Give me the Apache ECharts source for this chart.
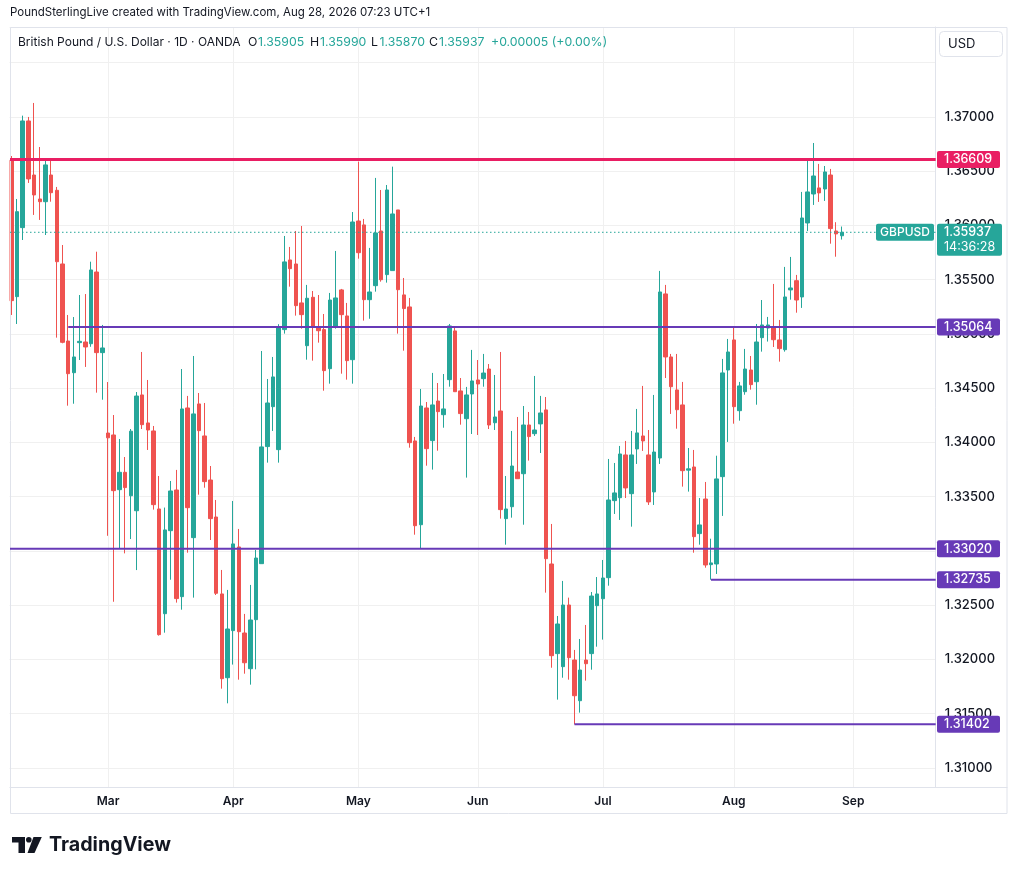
<!DOCTYPE html>
<html>
<head>
<meta charset="utf-8">
<script src="https://cdn.jsdelivr.net/npm/echarts@6/dist/echarts.min.js"></script>
<style>
html,body{margin:0;padding:0;background:#ffffff;}
#c{width:1017px;height:875px;}
</style>
</head>
<body>
<div id="c"></div>
<script>
// ---------------- DATA ----------------
const FIRST_DATE = [2026, 1, 5];   // 5 Feb 2026 (UTC, month 0-based)
const TOTAL_SLOTS = 163;           // daily bars + empty right margin slots
const opens = [
1.36600,1.35344,1.35980,1.36963,1.36465,1.36244,1.36219,1.36465,1.36324,1.35645,
1.34935,1.34643,1.34920,1.34926,1.34910,1.35571,1.34828,1.34087,1.34069,1.33565,
1.33725,1.33509,1.33371,1.34438,1.34180,1.34106,1.33387,1.32422,1.33187,1.33562,
1.32579,1.34318,1.33123,1.34355,1.34060,1.33654,1.33313,1.32604,1.31832,1.32266,
1.33037,1.32244,1.31915,1.32367,1.32883,1.33962,1.34330,1.33934,1.35040,1.35682,
1.35645,1.35286,1.34892,1.35338,1.35067,1.35040,1.34680,1.35065,1.35406,1.35166,
1.34763,1.36041,1.36005,1.35316,1.35445,1.35949,1.35547,1.35584,1.36143,1.35360,
1.35249,1.34014,1.33242,1.34318,1.34017,1.34382,1.34256,1.34579,1.35028,1.34475,
1.34219,1.34447,1.34576,1.34588,1.34677,1.34182,1.34290,1.33298,1.33408,1.33728,
1.33712,1.34161,1.34081,1.34171,1.34300,1.32880,1.32054,1.31934,1.32502,1.31995,
1.31620,1.31995,1.32054,1.32496,1.32560,1.32754,1.33464,1.33491,1.33885,1.33528,
1.33940,1.34060,1.33885,1.33544,1.33857,1.35369,1.34788,1.34484,1.34346,1.33745,
1.33774,1.33160,1.33479,1.32874,1.32880,1.33685,1.34668,1.34945,1.34293,1.34468,
1.34668,1.34560,1.34966,1.35055,1.35068,1.34945,1.34855,1.35406,1.35491,1.35341,
1.36023,1.36290,1.36346,1.36336,1.36465,1.35949,1.35905
];
const highs = [
1.36640,1.36244,1.37012,1.37000,1.37129,1.36723,1.36597,1.36619,1.36355,1.35820,
1.35175,1.35156,1.35359,1.35368,1.35666,1.35758,1.35083,1.34557,1.34253,1.34032,
1.33866,1.34124,1.34465,1.34834,1.34576,1.34152,1.33691,1.33400,1.33645,1.33747,
1.34677,1.34429,1.34797,1.34456,1.34364,1.33783,1.33470,1.32825,1.32641,1.33461,
1.33203,1.32420,1.32687,1.33009,1.34843,1.34585,1.34788,1.35090,1.35903,1.35802,
1.35949,1.35995,1.35452,1.35396,1.35359,1.35184,1.35378,1.35765,1.35415,1.35286,
1.36124,1.36588,1.36060,1.35793,1.36438,1.36327,1.36373,1.36542,1.36143,1.35516,
1.35332,1.34051,1.34493,1.34373,1.34641,1.34548,1.34631,1.35092,1.35065,1.34594,
1.34512,1.34853,1.34760,1.34816,1.34723,1.34622,1.34834,1.33691,1.34106,1.34235,
1.34336,1.34281,1.34613,1.34429,1.34419,1.33249,1.32401,1.32724,1.32570,1.32088,
1.32189,1.32318,1.32622,1.32760,1.32917,1.33848,1.33811,1.33968,1.34014,1.34106,
1.34309,1.34521,1.34115,1.34438,1.35581,1.35452,1.34816,1.34816,1.34558,1.33949,
1.33931,1.33488,1.33636,1.33113,1.33878,1.34770,1.34954,1.35065,1.34558,1.34862,
1.34797,1.35092,1.35313,1.35157,1.35461,1.35129,1.35618,1.35710,1.35544,1.36309,
1.36604,1.36760,1.36567,1.36548,1.36521,1.36030,1.35990
];
const lows = [
1.35175,1.35092,1.35866,1.36392,1.36097,1.36051,1.35912,1.36219,1.34966,1.34914,
1.34339,1.34357,1.34760,1.34696,1.34882,1.34459,1.34394,1.33140,1.32532,1.33024,
1.32978,1.33110,1.32824,1.34124,1.33931,1.33381,1.32220,1.32247,1.32735,1.32524,
1.32459,1.32984,1.32570,1.33519,1.33583,1.33101,1.32594,1.31731,1.31596,1.31953,
1.31814,1.31869,1.31768,1.31909,1.32883,1.33814,1.34106,1.33814,1.35003,1.35436,
1.35169,1.35049,1.34763,1.34754,1.34920,1.34477,1.34542,1.35049,1.34634,1.34579,
1.34542,1.35694,1.35123,1.35140,1.35390,1.35482,1.35473,1.35584,1.35003,1.34846,
1.33952,1.33150,1.33021,1.33786,1.33750,1.33924,1.34136,1.34514,1.34468,1.34164,
1.33676,1.34078,1.34069,1.34514,1.34124,1.34115,1.33298,1.33058,1.33307,1.33666,
1.33242,1.33833,1.34060,1.33903,1.32616,1.31924,1.31630,1.31832,1.31814,1.31402,
1.31510,1.31805,1.31906,1.32118,1.32183,1.32680,1.33341,1.33286,1.33488,1.33224,
1.33802,1.33922,1.33424,1.33424,1.33802,1.34594,1.34263,1.34127,1.33593,1.33547,
1.32984,1.33058,1.32846,1.32735,1.32788,1.33323,1.34005,1.34173,1.34201,1.34440,
1.34487,1.34348,1.34837,1.34930,1.34880,1.34745,1.34837,1.35316,1.35196,1.35240,
1.35949,1.36189,1.36217,1.36226,1.35832,1.35712,1.35870
];
const closes = [
1.35307,1.36127,1.36963,1.36429,1.36281,1.36219,1.36558,1.36302,1.35666,1.34923,
1.34634,1.34788,1.34932,1.34880,1.35590,1.34828,1.34871,1.34043,1.33556,1.33725,
1.33584,1.34104,1.34428,1.34164,1.34115,1.33427,1.32229,1.33194,1.33553,1.32561,
1.34309,1.33399,1.34263,1.34109,1.33639,1.33298,1.32610,1.31823,1.32281,1.33065,
1.32256,1.31970,1.32364,1.32935,1.33959,1.34364,1.34604,1.35062,1.35664,1.35602,
1.35261,1.35178,1.35329,1.35071,1.35030,1.34662,1.35313,1.35332,1.35178,1.34754,
1.36032,1.35749,1.35316,1.35387,1.35931,1.35500,1.36327,1.36106,1.35408,1.35234,
1.33998,1.33233,1.34336,1.33943,1.34346,1.34284,1.34309,1.35074,1.34468,1.34266,
1.34438,1.34567,1.34539,1.34640,1.34161,1.34235,1.33381,1.33387,1.33783,1.33666,
1.34161,1.34054,1.34115,1.34272,1.32929,1.32035,1.32327,1.32502,1.32017,1.31666,
1.31903,1.31961,1.32585,1.32604,1.32751,1.33470,1.33535,1.33894,1.33581,1.33885,
1.34088,1.34014,1.33452,1.33912,1.35387,1.34788,1.34514,1.34302,1.33740,1.33757,
1.33132,1.33240,1.32871,1.32890,1.33664,1.34641,1.34834,1.34330,1.34521,1.34677,
1.34533,1.34926,1.35083,1.35083,1.34947,1.34865,1.35341,1.35424,1.35313,1.36069,
1.36309,1.36456,1.36300,1.36493,1.35971,1.35922,1.35937
];
const priceTicks = [1.31,1.315,1.32,1.325,1.33,1.335,1.34,1.345,1.35,1.355,1.36,1.365,1.37];
const levelValues = [1.36609, 1.35064, 1.33020, 1.32735, 1.31402];
const levelStartBar = [0, 10, 0, 123, 99];
const lastPrice = 1.35937;
const monthNames = ['Jan','Feb','Mar','Apr','May','Jun','Jul','Aug','Sep','Oct','Nov','Dec'];
const Y_MIN = 1.30822, Y_MAX = 1.37829;

// ---------------- BUILD ----------------
function buildDates(){
  const out = [];
  let t = Date.UTC(FIRST_DATE[0], FIRST_DATE[1], FIRST_DATE[2]);
  while (out.length < TOTAL_SLOTS){
    const d = new Date(t);
    const wd = d.getUTCDay();
    if (wd !== 0 && wd !== 6) out.push(d.toISOString().slice(0,10));
    t += 86400000;
  }
  return out;
}
const dates = buildDates();
function isMonthStart(i){ return i > 0 && dates[i].slice(5,7) !== dates[i-1].slice(5,7); }
const candleData = opens.map((o,i)=>[o, closes[i], lows[i], highs[i]]);

const UP = '#26a69a', DOWN = '#ef5350', TXT = '#131722', GRIDC = '#f0f0f0', BORDER = '#e0e3eb';
const PINK = '#e91e63', PURPLE = '#673ab7';
const FONT = 'Inter, "Noto Sans", sans-serif';
const W = 1017, H = 875;
const GRID_LEFT = 8.5, PLOT_RIGHT = 935.7, PLOT_TOP = 27, PLOT_BOTTOM = 787.3;
const PANEL_LEFT = 10, PANEL_RIGHT = 1007.5, PANEL_BOTTOM = 814;

const chart = echarts.init(document.getElementById('c'), null, {renderer:'canvas', width: W, height: H});

chart.setOption({
  animation: false,
  backgroundColor: '#ffffff',
  textStyle: { fontFamily: FONT },
  grid: { left: GRID_LEFT, right: W - PLOT_RIGHT, top: PLOT_TOP, bottom: H - PLOT_BOTTOM, containLabel: false, outerBoundsMode: 'none' },
  xAxis: {
    type: 'category', data: dates, boundaryGap: true,
    axisLine: { show: true, lineStyle: { color: BORDER } },
    axisTick: { show: false },
    splitLine: { show: false },
    axisLabel: {
      interval: (i) => isMonthStart(i),
      formatter: (v) => monthNames[parseInt(v.slice(5,7),10) - 1],
      color: TXT, fontSize: 12, fontWeight: 600, margin: 8, fontFamily: FONT
    }
  },
  yAxis: {
    type: 'value', position: 'right', min: Y_MIN, max: Y_MAX, splitNumber: 14, scale: true,
    axisLine: { show: true, lineStyle: { color: BORDER } },
    axisTick: { show: false },
    splitLine: { show: true, lineStyle: { color: GRIDC, width: 1 } },
    axisLabel: {
      customValues: priceTicks,
      showMinLabel: true, showMaxLabel: true,
      formatter: (v) => Number(v).toFixed(5),
      color: TXT, fontSize: 13, fontWeight: 500, margin: 9, fontFamily: FONT
    }
  },
  series: [{
    type: 'candlestick',
    data: candleData,
    barWidth: 4,
    itemStyle: { color: UP, color0: DOWN, borderColor: UP, borderColor0: DOWN, borderWidth: 1 },
    silent: true
  }]
});

function px(i){ return chart.convertToPixel({xAxisIndex: 0}, i); }
function py(v){ return chart.convertToPixel({yAxisIndex: 0}, v); }

function txt(x, y, text, size, color, weight, align, z){
  return { type: 'text', x: x, y: y, z: z || 120, silent: true,
    style: { text: text, fill: color, fontSize: size, fontWeight: weight || 400, fontFamily: FONT,
      textAlign: align || 'left', textVerticalAlign: 'middle' } };
}

const els = [];
// month grid lines
for (let i = 0; i < dates.length; i++){
  if (isMonthStart(i)){
    const x = Math.round(px(i)) + 0.5;
    els.push({ type: 'line', z: 1, silent: true, shape: { x1: x, y1: PLOT_TOP, x2: x, y2: PLOT_BOTTOM }, style: { stroke: GRIDC, lineWidth: 1 } });
  }
}
// cover left of panel edge
els.push({ type: 'rect', z: 90, silent: true, shape: { x: 0, y: PLOT_TOP - 1, width: PANEL_LEFT - 0.5, height: PLOT_BOTTOM - PLOT_TOP + 2 }, style: { fill: '#ffffff' } });
// panel border & separators
els.push({ type: 'rect', z: 95, silent: true, shape: { x: PANEL_LEFT + 0.5, y: PLOT_TOP + 0.5, width: PANEL_RIGHT - PANEL_LEFT - 1, height: PANEL_BOTTOM - PLOT_TOP - 1 }, style: { fill: null, stroke: BORDER, lineWidth: 1 } });
els.push({ type: 'line', z: 95, silent: true, shape: { x1: PANEL_LEFT, y1: Math.round(PLOT_BOTTOM) + 0.5, x2: PANEL_RIGHT, y2: Math.round(PLOT_BOTTOM) + 0.5 }, style: { stroke: BORDER, lineWidth: 1 } });

// current price dotted line
const yLast = py(lastPrice);
els.push({ type: 'line', z: 100, silent: true, shape: { x1: PANEL_LEFT, y1: yLast, x2: PLOT_RIGHT, y2: yLast }, style: { stroke: UP, lineWidth: 1, lineDash: [1.5, 2.5] } });

// level rays
levelValues.forEach((v, k) => {
  const y = py(v);
  const color = k === 0 ? PINK : PURPLE;
  const x0 = levelStartBar[k] === 0 ? PANEL_LEFT : px(levelStartBar[k]);
  els.push({ type: 'line', z: 110, silent: true, shape: { x1: x0, y1: y, x2: PLOT_RIGHT, y2: y }, style: { stroke: color, lineWidth: k === 0 ? 3 : 2 } });
  els.push({ type: 'rect', z: 115, silent: true, shape: { x: 937, y: y - 8.5, width: 63, height: 17, r: 2 }, style: { fill: color } });
  els.push(txt(944, y, v.toFixed(5), 12.5, '#ffffff', 500, 'left', 116));
});

// symbol + last price labels
els.push({ type: 'rect', z: 115, silent: true, shape: { x: 876, y: yLast - 8.5, width: 58, height: 17, r: 2 }, style: { fill: UP } });
els.push(txt(905, yLast, 'GBPUSD', 12, '#ffffff', 500, 'center', 116));
els.push({ type: 'rect', z: 115, silent: true, shape: { x: 937, y: yLast - 8.5, width: 65, height: 32, r: 2 }, style: { fill: UP } });
els.push(txt(944, yLast, lastPrice.toFixed(5), 12.5, '#ffffff', 500, 'left', 116));
els.push(txt(944, yLast + 15, '14:36:28', 12.5, '#ffffff', 400, 'left', 116));

// currency box
els.push({ type: 'rect', z: 115, silent: true, shape: { x: 939.5, y: 31.5, width: 63, height: 25, r: 4 }, style: { fill: '#ffffff', stroke: BORDER, lineWidth: 1 } });
els.push(txt(948, 44, 'USD', 13, TXT, 400, 'left', 116));

// header
els.push(txt(10, 13, 'PoundSterlingLive created with TradingView.com, Aug 28, 2026 07:23 UTC+1', 11.5, TXT, 400, 'left', 120));
els.push(txt(18, 42, 'British Pound / U.S. Dollar · 1D · OANDA', 12, TXT, 400, 'left', 120));
const ohlc = [['O', 248, '1.35905'], ['H', 310, '1.35990'], ['L', 371, '1.35870'], ['C', 429, '1.35937']];
ohlc.forEach(o => {
  els.push(txt(o[1], 42, o[0], 12.3, TXT, 400, 'left', 120));
  els.push(txt(o[1] + (o[0] === 'L' ? 8.5 : 10), 42, o[2], 12.3, UP, 400, 'left', 120));
});
els.push(txt(491, 42, '+0.00005 (+0.00%)', 12.3, UP, 400, 'left', 120));

// TradingView logo
els.push({ type: 'polygon', z: 120, silent: true, shape: { points: [[12,837],[25,837],[25,853],[18.5,853],[18.5,842.5],[12,842.5]] }, style: { fill: TXT } });
els.push({ type: 'circle', z: 120, silent: true, shape: { cx: 28.8, cy: 839.8, r: 2.8 }, style: { fill: TXT } });
els.push({ type: 'polygon', z: 120, silent: true, shape: { points: [[33.5,837],[41.8,837],[34.5,853],[27.5,853]] }, style: { fill: TXT } });
els.push(txt(49, 845, 'TradingView', 19.7, TXT, 700, 'left', 120));

chart.setOption({ graphic: { elements: els } });
</script>
</body>
</html>
